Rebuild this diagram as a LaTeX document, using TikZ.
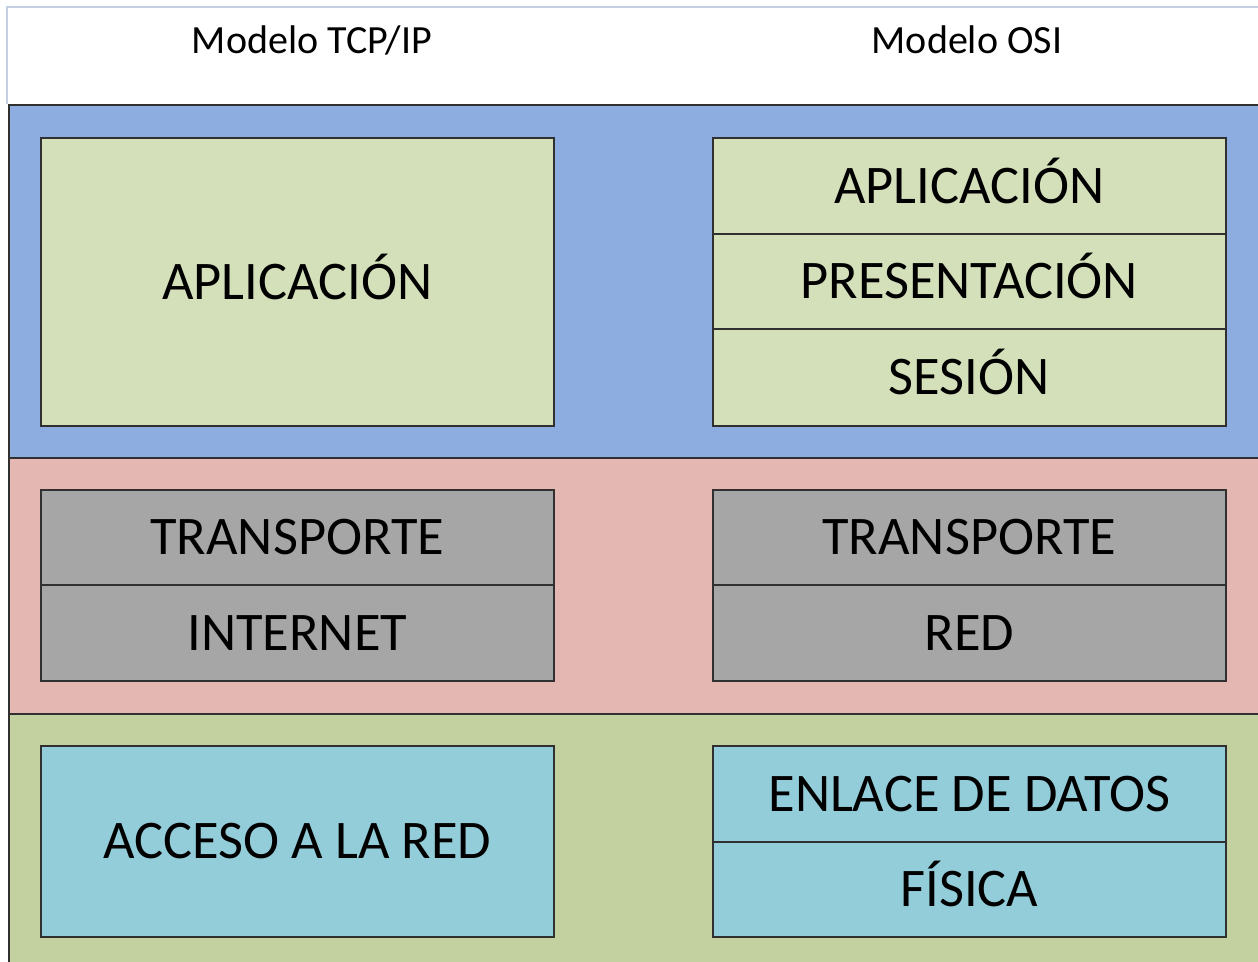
\documentclass[tikz,border=0pt]{standalone}
\usepackage{fontspec}
\setmainfont{Carlito}
\definecolor{bandblue}{HTML}{8DADE1}
\definecolor{bandpink}{HTML}{E4B7B3}
\definecolor{bandgreen}{HTML}{C2D19F}
\definecolor{layergreen}{HTML}{D4E0BA}
\definecolor{layergray}{HTML}{A6A6A6}
\definecolor{layerteal}{HTML}{93CDDA}
\definecolor{frameline}{HTML}{C3D0E0}
\definecolor{edge}{HTML}{303030}
\tikzset{
  band/.style={draw=edge, line width=1.5pt, anchor=north west, inner sep=0pt, minimum width=1262pt},
  layer/.style={draw=edge, line width=1.6pt, anchor=north west, inner sep=0pt, minimum width=513pt},
  % capital letters centred on the given point
  caption/.style={font=\fontsize{54.4}{60}\selectfont, inner sep=0pt, anchor=base, yshift=-17.5pt},
  header/.style={font=\fontsize{40}{46}\selectfont, inner sep=0pt, anchor=base},
}
\begin{document}
\begin{tikzpicture}[x=1pt,y=-1pt]
\useasboundingbox (0,0) rectangle (1258,961);
\fill[white] (0,0) rectangle (1258,961);
% light frame round the heading strip
\draw[frameline, line width=1.5pt] (7,104) -- (7,7) -- (1260,7);

% headings
\node[header] (tcpip) at (312,53) {Modelo TCP/IP};
\node[header] (osi) at (967,53) {Modelo OSI};

% coloured bands
\node[band, fill=bandblue, minimum height=353pt] (upper) at (8,104) {};
\node[band, fill=bandpink, minimum height=256pt] (middle) at (8,457) {};
\node[band, fill=bandgreen, minimum height=252pt] (lower) at (8,713) {};

% TCP/IP layers
\node[layer, fill=layergreen, minimum height=288pt] (tapp) at (40,137) {};
\node[caption] at (tapp.center) {APLICACIÓN};
\node[layer, fill=layergray, minimum height=95pt] (ttrans) at (40,489) {};
\node[caption] at (ttrans.center) {TRANSPORTE};
\node[layer, fill=layergray, minimum height=96pt] (tnet) at (40,584) {};
\node[caption] at (tnet.center) {INTERNET};
\node[layer, fill=layerteal, minimum height=191pt] (tacc) at (40,745) {};
\node[caption] at (tacc.center) {ACCESO A LA RED};

% OSI layers
\node[layer, fill=layergreen, minimum height=96pt] (oapp) at (712,137) {};
\node[caption] at (oapp.center) {APLICACIÓN};
\node[layer, fill=layergreen, minimum height=95pt] (opres) at (712,233) {};
\node[caption] at (opres.center) {PRESENTACIÓN};
\node[layer, fill=layergreen, minimum height=97pt] (oses) at (712,328) {};
\node[caption] at (oses.center) {SESIÓN};
\node[layer, fill=layergray, minimum height=95pt] (otrans) at (712,489) {};
\node[caption] at (otrans.center) {TRANSPORTE};
\node[layer, fill=layergray, minimum height=96pt] (ored) at (712,584) {};
\node[caption] at (ored.center) {RED};
\node[layer, fill=layerteal, minimum height=96pt] (olink) at (712,745) {};
\node[caption] at (olink.center) {ENLACE DE DATOS};
\node[layer, fill=layerteal, minimum height=95pt] (ophys) at (712,841) {};
\node[caption] at (ophys.center) {FÍSICA};
\end{tikzpicture}
\end{document}
